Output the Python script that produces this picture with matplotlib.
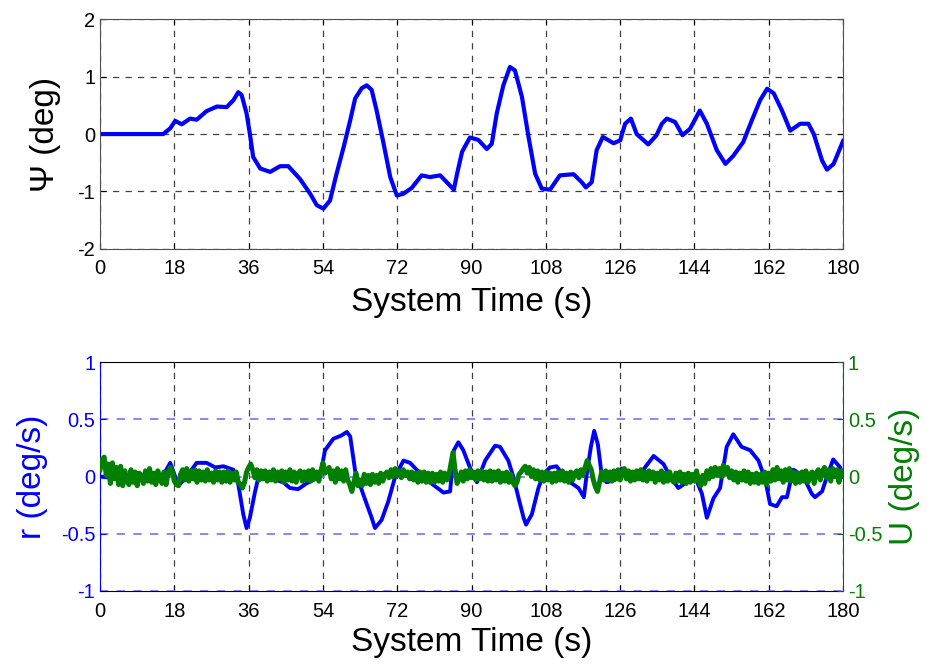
import numpy as np
import matplotlib
matplotlib.use("Agg")
import matplotlib.pyplot as plt

plt.rcParams['font.family'] = ['Liberation Sans', 'DejaVu Sans']
plt.rcParams['axes.unicode_minus'] = False

# heading angle (top panel)
t_psi = [0, 15.3, 17, 18.2, 19.8, 21.8, 23.4, 25.8, 28.3, 30.7, 32.3, 33.5, 34.3, 35.5, 36.3,
         37.1, 38.8, 41.2, 43.6, 45.6, 48.4, 50.9, 52.5, 54.1, 55.7, 57.3, 59.0, 60.6, 61.8,
         63.4, 64.6, 65.8, 67.0, 68.7, 70.3, 71.9, 73.5, 75.5, 77.9, 79.9, 82.4, 84.0, 85.7,
         86.5, 87.7, 89.6, 91.6, 93.7, 94.9, 96.1, 97.7, 99.3, 100.5, 102.2, 103.8, 105.4,
         107.0, 109.0, 111.4, 114.7, 116.7, 117.7, 119.1, 120.3, 121.8, 124.4, 126.0, 127.2,
         128.6, 130.0, 132.8, 134.8, 136.1, 137.3, 139.3, 141.1, 142.9, 145.3, 147.0, 149.4,
         151.5, 153.4, 155.8, 157.9, 159.9, 161.6, 163.2, 165.2, 167.2, 169.6, 171.6, 172.9,
         174.9, 176.1, 177.7, 180]
psi = [0, 0, 0.1, 0.23, 0.17, 0.27, 0.25, 0.40, 0.48, 0.47, 0.59, 0.73, 0.68, 0.36, 0.0,
       -0.40, -0.60, -0.66, -0.56, -0.56, -0.78, -1.04, -1.24, -1.30, -1.16, -0.69, -0.23, 0.24,
       0.62, 0.80, 0.85, 0.77, 0.41, -0.17, -0.75, -1.07, -1.04, -0.94, -0.72, -0.75, -0.72,
       -0.84, -0.97, -0.69, -0.31, -0.06, -0.10, -0.26, -0.17, 0.36, 0.85, 1.17, 1.11, 0.65,
       -0.05, -0.69, -0.95, -0.97, -0.72, -0.70, -0.84, -0.93, -0.84, -0.28, -0.05, -0.16,
       -0.11, 0.18, 0.27, 0.0, -0.18, -0.02, 0.18, 0.27, 0.21, -0.02, 0.09, 0.41, 0.18, -0.28,
       -0.52, -0.38, -0.14, 0.24, 0.59, 0.79, 0.71, 0.41, 0.06, 0.18, 0.18, 0.0, -0.46, -0.62,
       -0.52, -0.12]

# yaw rate r (blue)
t_r = [0, 5, 10, 15, 17, 18.2, 19, 21, 23.4, 25.8, 27.9, 29.9, 32.3, 33.5, 34.7, 35.5, 36.3,
       37.5, 38.4, 41, 44.4, 46.0, 48.0, 50.0, 53.3, 54.5, 56.5, 58.5, 59.8, 60.6, 61.8, 63.8,
       65.8, 66.6, 68.2, 69.8, 71.5, 73.5, 75.1, 77.5, 79.9, 83.2, 84.8, 85.7, 86.8, 88.0,
       89.6, 91.3, 93.3, 95.7, 96.9, 98.9, 100.1, 101.4, 102.6, 103.2, 104.6, 106.2, 107.4,
       109.0, 110.6, 111.4, 113.9, 115.9, 117.2, 117.9, 118.9, 119.7, 120.6, 121.5, 122.7,
       124.7, 126.4, 128.4, 131.6, 134.1, 136.5, 138.1, 140.1, 142.1, 144.1, 145.8, 147.0,
       148.6, 150.2, 151.8, 153.4, 155.4, 157.5, 159.5, 161.1, 162.3, 163.9, 165.2, 166.4,
       167.2, 168.0, 170.4, 172.4, 173.2, 174.9, 176.1, 177.6, 179.3, 180]
r = [0.0, -0.02, 0.01, -0.01, 0.12, 0.0, -0.08, 0.0, 0.12, 0.12, 0.08, 0.09, 0.06, -0.07,
     -0.33, -0.45, -0.36, -0.14, 0.0, -0.01, -0.05, -0.10, -0.11, -0.06, 0.0, 0.23, 0.33, 0.36,
     0.39, 0.35, 0.05, -0.16, -0.36, -0.45, -0.38, -0.22, 0.0, 0.14, 0.12, 0.03, -0.05, -0.14,
     -0.13, 0.23, 0.30, 0.23, 0.08, -0.05, 0.14, 0.27, 0.26, 0.14, 0.0, -0.19, -0.36, -0.42,
     -0.33, -0.10, 0.02, 0.08, 0.09, 0.05, -0.05, -0.10, -0.18, 0.02, 0.26, 0.40, 0.28, 0.02,
     -0.05, -0.03, 0.07, 0.03, 0.06, 0.18, 0.11, 0.0, -0.10, -0.05, 0.0, -0.15, -0.36, -0.19,
     -0.10, 0.26, 0.37, 0.26, 0.23, 0.14, -0.02, -0.24, -0.26, -0.18, -0.18, -0.05, 0.06, 0.0,
     -0.15, -0.18, -0.13, 0.0, 0.15, 0.08, 0.0]

# control U (green), one value every 0.5 s
u = [0.06, 0.15, 0.17, 0.01, 0.11, -0.06, 0.12, -0.02, 0.08, -0.07, 0.09, -0.08, 0.05, -0.03, -0.07, 0.06, -0.05, 0.04, -0.08, 0.03,
     0.01, -0.06, 0.05, -0.04, 0.07, -0.05, 0.03, -0.07, 0.05, -0.02, -0.06, 0.04, -0.07, 0.03, 0.08, 0.04, -0.04, -0.07, -0.08, 0.02,
     0.06, -0.03, 0.07, -0.04, 0.05, -0.02, 0.06, -0.05, 0.05, -0.03, 0.04, -0.04, 0.06, -0.03, 0.03, -0.05, 0.05, -0.03, 0.04, -0.05,
     0.04, -0.04, 0.05, -0.05, 0.03, -0.03, 0.04, -0.05, -0.07, -0.10, -0.05, 0.04, 0.08, 0.11, 0.06, -0.01, 0.06, -0.03, 0.05, -0.02,
     0.05, -0.04, 0.04, -0.03, 0.06, -0.04, 0.04, -0.02, 0.05, -0.05, 0.04, -0.03, 0.06, -0.04, 0.04, -0.05, 0.03, 0.05, -0.04, 0.04,
     -0.03, 0.05, -0.04, 0.06, -0.02, 0.04, -0.04, 0.05, 0.12, 0.03, 0.05, 0.08, -0.02, 0.05, -0.05, 0.07, -0.02, 0.05, -0.04, 0.06,
     -0.03, -0.07, -0.13, -0.05, 0.03, -0.08, -0.03, -0.08, 0.02, -0.06, 0.01, -0.07, 0.02, -0.05, 0.01, -0.06, 0.03, -0.04, 0.02, 0.04,
     -0.01, 0.06, 0.00, 0.07, 0.01, 0.05, -0.01, 0.06, 0.01, 0.04, -0.02, 0.04, -0.03, 0.03, -0.05, 0.04, -0.04, 0.04, -0.05, 0.03,
     -0.05, 0.03, -0.05, 0.02, -0.04, 0.04, -0.05, 0.03, -0.03, 0.01, 0.11, 0.21, 0.06, -0.06, -0.02, 0.04, -0.04, 0.05, -0.02, 0.06,
     -0.01, 0.04, -0.03, 0.05, -0.02, 0.05, -0.03, 0.04, -0.04, 0.05, -0.04, 0.04, -0.03, 0.05, -0.05, 0.03, -0.04, 0.04, -0.05, 0.02,
     -0.05, -0.08, -0.05, 0.02, 0.04, 0.07, 0.09, 0.03, 0.08, 0.00, 0.06, -0.02, 0.05, -0.03, 0.04, -0.04, 0.04, -0.03, 0.03, -0.05,
     0.03, -0.04, 0.04, -0.03, 0.05, -0.04, 0.03, -0.05, 0.04, -0.03, 0.03, 0.05, -0.01, 0.06, 0.01, 0.08, 0.14, 0.10, 0.06, -0.03,
     -0.09, -0.13, -0.05, 0.04, -0.03, 0.05, -0.03, 0.04, -0.04, 0.05, -0.02, 0.06, -0.03, 0.04, 0.07, -0.02, 0.05, -0.04, 0.04, -0.03,
     0.05, -0.02, 0.06, -0.03, 0.04, -0.04, 0.05, -0.02, 0.04, -0.05, 0.03, -0.03, 0.05, -0.05, 0.03, -0.04, 0.04, -0.03, -0.05, 0.03,
     -0.04, 0.04, -0.05, 0.02, -0.06, 0.03, -0.05, 0.02, -0.04, 0.05, -0.04, -0.08, 0.01, -0.06, 0.05, -0.02, 0.07, 0.00, 0.08, 0.01,
     0.07, 0.00, 0.10, 0.02, 0.08, -0.01, 0.05, -0.03, 0.04, -0.05, 0.03, -0.03, 0.05, -0.04, 0.04, -0.06, 0.02, -0.05, 0.03, -0.06,
     0.02, -0.05, 0.04, -0.07, 0.03, -0.04, 0.06, -0.03, 0.08, -0.02, 0.05, -0.05, 0.06, -0.03, 0.07, -0.04, 0.04, -0.06, 0.03, -0.05,
     0.04, -0.04, 0.05, -0.05, 0.02, 0.04, -0.06, 0.03, 0.06, -0.03, 0.05, 0.08, -0.01, 0.06, -0.04, 0.07, 0.00, 0.06, -0.05, 0.05, 0.02]
t_u = np.linspace(0, 180, len(u))

xticks = [0, 18, 36, 54, 72, 90, 108, 126, 144, 162, 180]
psi_ticks = [-2, -1, 0, 1, 2]
rate_ticks = [-1, -0.5, 0, 0.5, 1]
rate_labels = ['-1', '-0.5', '0', '0.5', '1']

blue = (0, 0, 1)
green = (0, 0.5, 0)
tick_fs = 14.5
label_fs = 24

fig = plt.figure(figsize=(9.28, 6.67), dpi=100)

# top panel
ax1 = fig.add_axes([0.1078, 0.627, 0.8007, 0.344])
ax1.plot(t_psi, psi, color=blue, lw=3.0)
ax1.set_xlim(0, 180)
ax1.set_ylim(-2, 2)
ax1.set_xticks(xticks)
ax1.set_yticks(psi_ticks)
ax1.set_yticklabels([str(v) for v in psi_ticks])
ax1.grid(True, color='#404040', linestyle=(0, (5, 5)), lw=0.9)
ax1.tick_params(direction='in', labelsize=tick_fs, top=True, right=True, length=4)
ax1.tick_params(axis='x', pad=7)
for s in ax1.spines.values():
    s.set_color('#505050')
ax1.set_xlabel('System Time (s)', fontsize=label_fs, labelpad=7)
ax1.set_ylabel('Ψ (deg)', fontsize=label_fs, labelpad=12)

# bottom panel: r on the left, U on the right
ax2 = fig.add_axes([0.1078, 0.114, 0.8007, 0.343])
ax2.plot(t_r, r, color=blue, lw=2.8)
ax2.set_xlim(0, 180)
ax2.set_ylim(-1, 1)
ax2.set_xticks(xticks)
ax2.set_yticks(rate_ticks)
ax2.set_yticklabels(rate_labels)
ax2.xaxis.grid(True, color='#404040', linestyle=(0, (5, 5)), lw=0.9)
ax2.yaxis.grid(True, color=(0.45, 0.45, 1.0), linestyle=(0, (5, 5)), lw=1.2)
ax2.tick_params(axis='x', direction='in', labelsize=tick_fs, top=True, length=4, pad=8)
ax2.tick_params(axis='y', direction='in', labelsize=tick_fs, colors=blue, length=4)
ax2.spines['left'].set_color(blue)
ax2.spines['right'].set_visible(False)
ax2.set_xlabel('System Time (s)', fontsize=label_fs, labelpad=4)
ax2.set_ylabel('r (deg/s)', fontsize=label_fs, color=blue, labelpad=9)

ax3 = ax2.twinx()
ax3.plot(t_u, u, color=green, lw=3.6)
ax3.set_xlim(0, 180)
ax3.set_ylim(-1, 1)
ax3.set_yticks(rate_ticks)
ax3.set_yticklabels(rate_labels)
ax3.tick_params(axis='y', direction='in', labelsize=tick_fs, colors=green, length=4)
ax3.tick_params(axis='y', color='#1e5050')
for side in ['left', 'top', 'bottom']:
    ax3.spines[side].set_visible(False)
ax3.spines['right'].set_color('#1e5050')
ax3.set_ylabel('U (deg/s)', fontsize=label_fs, color=green, labelpad=5)

fig.savefig('out.png', dpi=100)
